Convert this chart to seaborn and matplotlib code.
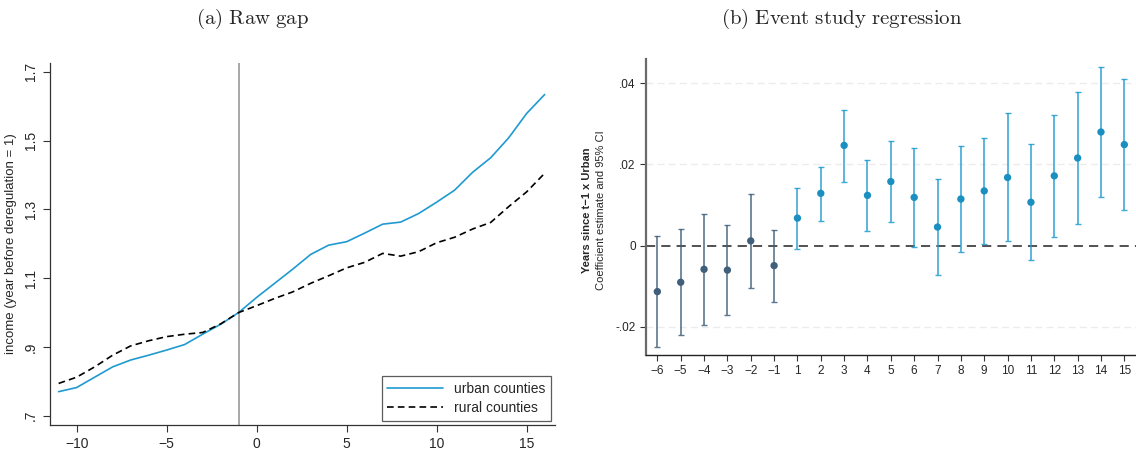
import matplotlib
matplotlib.use('Agg')
import matplotlib.pyplot as plt
import seaborn as sns
import pandas as pd

# Panel (a): raw income gap, normalised to year before deregulation
years = list(range(-11, 17))
urban = [0.770, 0.782, 0.812, 0.842, 0.862, 0.876, 0.891, 0.907, 0.937, 0.966, 1.000,
         1.044, 1.085, 1.126, 1.169, 1.196, 1.206, 1.231, 1.257, 1.263, 1.288, 1.321,
         1.356, 1.408, 1.450, 1.508, 1.579, 1.634]
rural = [0.794, 0.812, 0.842, 0.876, 0.903, 0.918, 0.930, 0.937, 0.942, 0.967, 1.000,
         1.020, 1.041, 1.060, 1.085, 1.107, 1.130, 1.146, 1.172, 1.164, 1.177, 1.203,
         1.219, 1.243, 1.262, 1.308, 1.351, 1.405]

# Panel (b): event study coefficients and 95% CI
event_labels = ['-6', '-5', '-4', '-3', '-2', '-1', '1', '2', '3', '4', '5', '6', '7',
                '8', '9', '10', '11', '12', '13', '14', '15']
coef = [-0.0113, -0.0090, -0.0058, -0.0060, 0.0012, -0.0049, 0.0068, 0.0129, 0.0247,
        0.0124, 0.0158, 0.0119, 0.0046, 0.0115, 0.0135, 0.0168, 0.0107, 0.0172, 0.0216,
        0.0280, 0.0249]
ci_lo = [-0.0250, -0.0221, -0.0196, -0.0171, -0.0103, -0.0138, -0.0007, 0.0062, 0.0158,
         0.0037, 0.0058, -0.0003, -0.0071, -0.0016, 0.0004, 0.0011, -0.0035, 0.0021,
         0.0053, 0.0121, 0.0089]
ci_hi = [0.0023, 0.0040, 0.0079, 0.0052, 0.0128, 0.0039, 0.0142, 0.0195, 0.0335, 0.0211,
         0.0258, 0.0240, 0.0164, 0.0246, 0.0265, 0.0326, 0.0250, 0.0322, 0.0379, 0.0441,
         0.0410]

sns.set_style('ticks')
plt.rcParams['font.family'] = ['Liberation Sans', 'DejaVu Sans']
plt.rcParams['mathtext.fontset'] = 'cm'
plt.rcParams['axes.unicode_minus'] = True

urban_col = '#1f9ad0'
pre_col = '#3f5f7a'

fig = plt.figure(figsize=(11.36, 4.51), dpi=100)

# ---- (a) Raw gap ----
ax1 = fig.add_axes([0.044, 0.0576, 0.4445, 0.803])
gap = pd.DataFrame({'year': years, 'urban counties': urban, 'rural counties': rural})
sns.lineplot(data=gap, x='year', y='urban counties', ax=ax1, color=urban_col, lw=1.2,
             label='urban counties')
sns.lineplot(data=gap, x='year', y='rural counties', ax=ax1, color='black', lw=1.2,
             ls=(0, (4, 2.5)), label='rural counties')
ax1.axvline(-1, color='#a0a0a0', lw=1.3, zorder=0)
ax1.set_xlim(-11.48, 16.57)
ax1.set_ylim(0.673, 1.726)
ax1.set_xticks([-10, -5, 0, 5, 10, 15])
ax1.set_xticklabels(['\u221210', '\u22125', '0', '5', '10', '15'])
ax1.set_yticks([0.7, 0.9, 1.1, 1.3, 1.5, 1.7])
ax1.set_yticklabels(['.7', '.9', '1.1', '1.3', '1.5', '1.7'], rotation=90, va='center')
ax1.tick_params(labelsize=10, length=5, width=0.8, color='#333333')
ax1.set_xlabel('')
ax1.set_ylabel('income (year before deregulation = 1)', fontsize=9.5, labelpad=5)
for s in ['top', 'right']:
    ax1.spines[s].set_visible(False)
for s in ['left', 'bottom']:
    ax1.spines[s].set_color('#333333')
    ax1.spines[s].set_linewidth(0.9)
leg = ax1.legend(loc='lower right', fontsize=10, handlelength=4, frameon=True, fancybox=False,
                 borderaxespad=0.3, labelspacing=0.4, bbox_to_anchor=(1.0, 0.0))
leg.get_frame().set_edgecolor('#333333')
leg.get_frame().set_linewidth(0.9)
fig.text(0.222, 0.958, r'$\mathrm{(a)\ Raw\ gap}$', ha='center', va='center', fontsize=15)

# ---- (b) Event study regression ----
ax2 = fig.add_axes([0.5687, 0.2129, 0.4313, 0.6556])
ev = pd.DataFrame({'event': event_labels, 'coef': coef, 'lo': ci_lo, 'hi': ci_hi})
ev['pos'] = range(len(ev))
ev['post'] = ev['event'].astype(int) > 0
for yv in [-0.02, 0.02, 0.04]:
    ax2.axhline(yv, color='#ececec', lw=1.0, ls=(0, (5, 3)), zorder=0)
ax2.axhline(0, color='#222222', lw=1.1, ls=(0, (6, 4)), zorder=1)
for post, col in [(False, pre_col), (True, urban_col)]:
    sub = ev[ev['post'] == post]
    ax2.errorbar(sub['pos'], sub['coef'], yerr=[sub['coef'] - sub['lo'], sub['hi'] - sub['coef']],
                 fmt='none', ecolor=col, elinewidth=1.2, capsize=2.5, capthick=1.0, alpha=0.85, zorder=2)
sns.scatterplot(data=ev, x='pos', y='coef', hue='post', palette={False: pre_col, True: '#1a8fc0'},
                s=28, edgecolor='none', legend=False, ax=ax2, zorder=3)
ax2.set_xlim(-0.484, 20.5)
ax2.set_ylim(-0.0269, 0.0459)
ax2.set_xticks(ev['pos'])
ax2.set_xticklabels([l.replace('-', '\u2212') for l in event_labels])
ax2.set_yticks([-0.02, 0, 0.02, 0.04])
ax2.set_yticklabels(['-.02', '0', '.02', '.04'])
ax2.tick_params(labelsize=8.5, length=4, width=0.8, color='#333333')
ax2.set_xlabel('')
ax2.set_ylabel('')
for s in ['top', 'right']:
    ax2.spines[s].set_visible(False)
ax2.spines['left'].set_color('#6a6a6a')
ax2.spines['left'].set_linewidth(1.6)
ax2.spines['bottom'].set_color('#222222')
ax2.spines['bottom'].set_linewidth(1.0)
fig.text(0.5170, 0.535, 'Years since t\u22121 x Urban', rotation=90, ha='center', va='center',
         fontsize=8, fontweight='bold')
fig.text(0.5290, 0.535, 'Coefficient estimate and 95% CI', rotation=90, ha='center', va='center',
         fontsize=8)
fig.text(0.741, 0.958, r'$\mathrm{(b)\ Event\ study\ regression}$', ha='center', va='center',
         fontsize=15)

fig.savefig('out.png', dpi=100)
